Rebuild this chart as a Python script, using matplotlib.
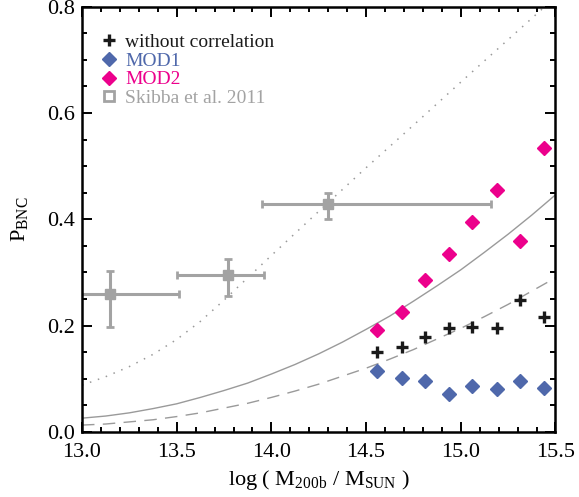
import matplotlib
matplotlib.use("Agg")
import matplotlib.pyplot as plt
from matplotlib.lines import Line2D

plt.rcParams['font.family'] = 'serif'
plt.rcParams['font.serif'] = ['Liberation Serif', 'DejaVu Serif']
plt.rcParams['mathtext.fontset'] = 'custom'
plt.rcParams['mathtext.rm'] = 'Liberation Serif'

# mass bins (log M200b / Msun)
mass_bins = [14.56, 14.69, 14.81, 14.94, 15.06, 15.19, 15.31, 15.44]
p_nocorr = [0.150, 0.160, 0.179, 0.195, 0.198, 0.195, 0.248, 0.217]
p_mod1 = [0.115, 0.101, 0.096, 0.071, 0.086, 0.080, 0.096, 0.083]
p_mod2 = [0.192, 0.226, 0.286, 0.334, 0.394, 0.456, 0.360, 0.534]

# Skibba et al. 2011
sk_mass = [13.15, 13.77, 14.30]
sk_p = [0.259, 0.295, 0.428]
sk_xlo = [0.35, 0.27, 0.35]
sk_xhi = [0.36, 0.19, 0.86]
sk_ylo = [0.061, 0.039, 0.028]
sk_yhi = [0.044, 0.030, 0.021]

# model curves
curve_m = [13.0, 13.125, 13.25, 13.375, 13.5, 13.625, 13.75, 13.875, 14.0, 14.125,
           14.25, 14.375, 14.5, 14.625, 14.75, 14.875, 15.0, 15.125, 15.25, 15.375, 15.5]
curve_solid = [0.026, 0.030, 0.036, 0.044, 0.053, 0.065, 0.078, 0.092, 0.109, 0.127,
               0.147, 0.169, 0.193, 0.218, 0.246, 0.275, 0.305, 0.338, 0.372, 0.408, 0.446]
curve_dash = [0.013, 0.015, 0.019, 0.023, 0.029, 0.036, 0.045, 0.054, 0.065, 0.077,
              0.090, 0.105, 0.120, 0.137, 0.155, 0.175, 0.195, 0.217, 0.240, 0.265, 0.290]
dot_m = [13.0, 13.125, 13.25, 13.375, 13.5, 13.625, 13.75, 13.875, 14.0, 14.25, 14.5,
         14.75, 15.0, 15.25, 15.5]
curve_dot = [0.088, 0.104, 0.123, 0.146, 0.174, 0.208, 0.248, 0.290, 0.332, 0.415, 0.497,
             0.577, 0.658, 0.738, 0.818]

grey = '#9a9a9a'
blue = '#4f68ab'
pink = '#ec008c'

fig = plt.figure(figsize=(5.79, 4.97), dpi=100)
ax = fig.add_axes([0.1416, 0.1308, 0.8178, 0.8559])

ax.plot(curve_m, curve_solid, color=grey, lw=1.0)
ax.plot(curve_m, curve_dash, color=grey, lw=1.0, linestyle=(0, (9, 6)))
ax.plot(dot_m, curve_dot, color=grey, lw=1.1, linestyle=(0, (1, 4.5)))

ax.errorbar(sk_mass, sk_p, xerr=[sk_xlo, sk_xhi], yerr=[sk_ylo, sk_yhi],
            fmt='s', color='#a3a3a3', ms=7, elinewidth=2.2, capsize=3, capthick=2)

ax.plot(mass_bins, p_mod2, 'D', color=pink, ms=7.5, mec=pink)
ax.plot(mass_bins, p_nocorr, '+', color='#1a1a1a', ms=8, mew=2.4)
ax.plot(mass_bins, p_mod1, 'D', color=blue, ms=7.5, mec=blue)

ax.set_xlim(13.0, 15.5)
ax.set_ylim(0.0, 0.8)
ax.set_xticks([13.0, 13.5, 14.0, 14.5, 15.0, 15.5])
ax.set_xticklabels(['13.0', '13.5', '14.0', '14.5', '15.0', '15.5'])
ax.set_yticks([0.0, 0.2, 0.4, 0.6, 0.8])
ax.set_yticklabels(['0.0', '0.2', '0.4', '0.6', '0.8'])
ax.set_xticks([x / 10 for x in range(130, 156)], minor=True)
ax.set_yticks([y / 100 for y in range(0, 81, 5)], minor=True)
ax.tick_params(which='both', direction='in', top=True, right=True, width=1.4,
               labelsize=16)
ax.tick_params(which='major', length=7)
ax.tick_params(which='minor', length=3.5)
ax.tick_params(axis='x', pad=8)
ax.tick_params(axis='y', pad=5)
for s in ax.spines.values():
    s.set_linewidth(1.8)

ax.set_xlabel(r'log ( M$_{\rm 200b}$ / M$_{\rm SUN}$ )', fontsize=16, labelpad=4)
ax.set_ylabel(r'P$_{\rm BNC}$', fontsize=16, labelpad=12)

handles = [
    Line2D([], [], marker='+', ls='none', color='#1a1a1a', ms=8, mew=2.4),
    Line2D([], [], marker='D', ls='none', color=blue, ms=7),
    Line2D([], [], marker='D', ls='none', color=pink, ms=7),
    Line2D([], [], marker='s', ls='none', mfc='none', mec='#a3a3a3', ms=7, mew=2),
]
labels = ['without correlation', 'MOD1', 'MOD2', 'Skibba et al. 2011']
leg = ax.legend(handles, labels, loc='upper left', bbox_to_anchor=(0.02, 0.955),
                frameon=False, fontsize=14, handlelength=1.0, handletextpad=0.35,
                labelspacing=0.05, borderaxespad=0,
                labelcolor=['#1a1a1a', blue, pink, '#a3a3a3'])

fig.savefig('out.png', dpi=100)
